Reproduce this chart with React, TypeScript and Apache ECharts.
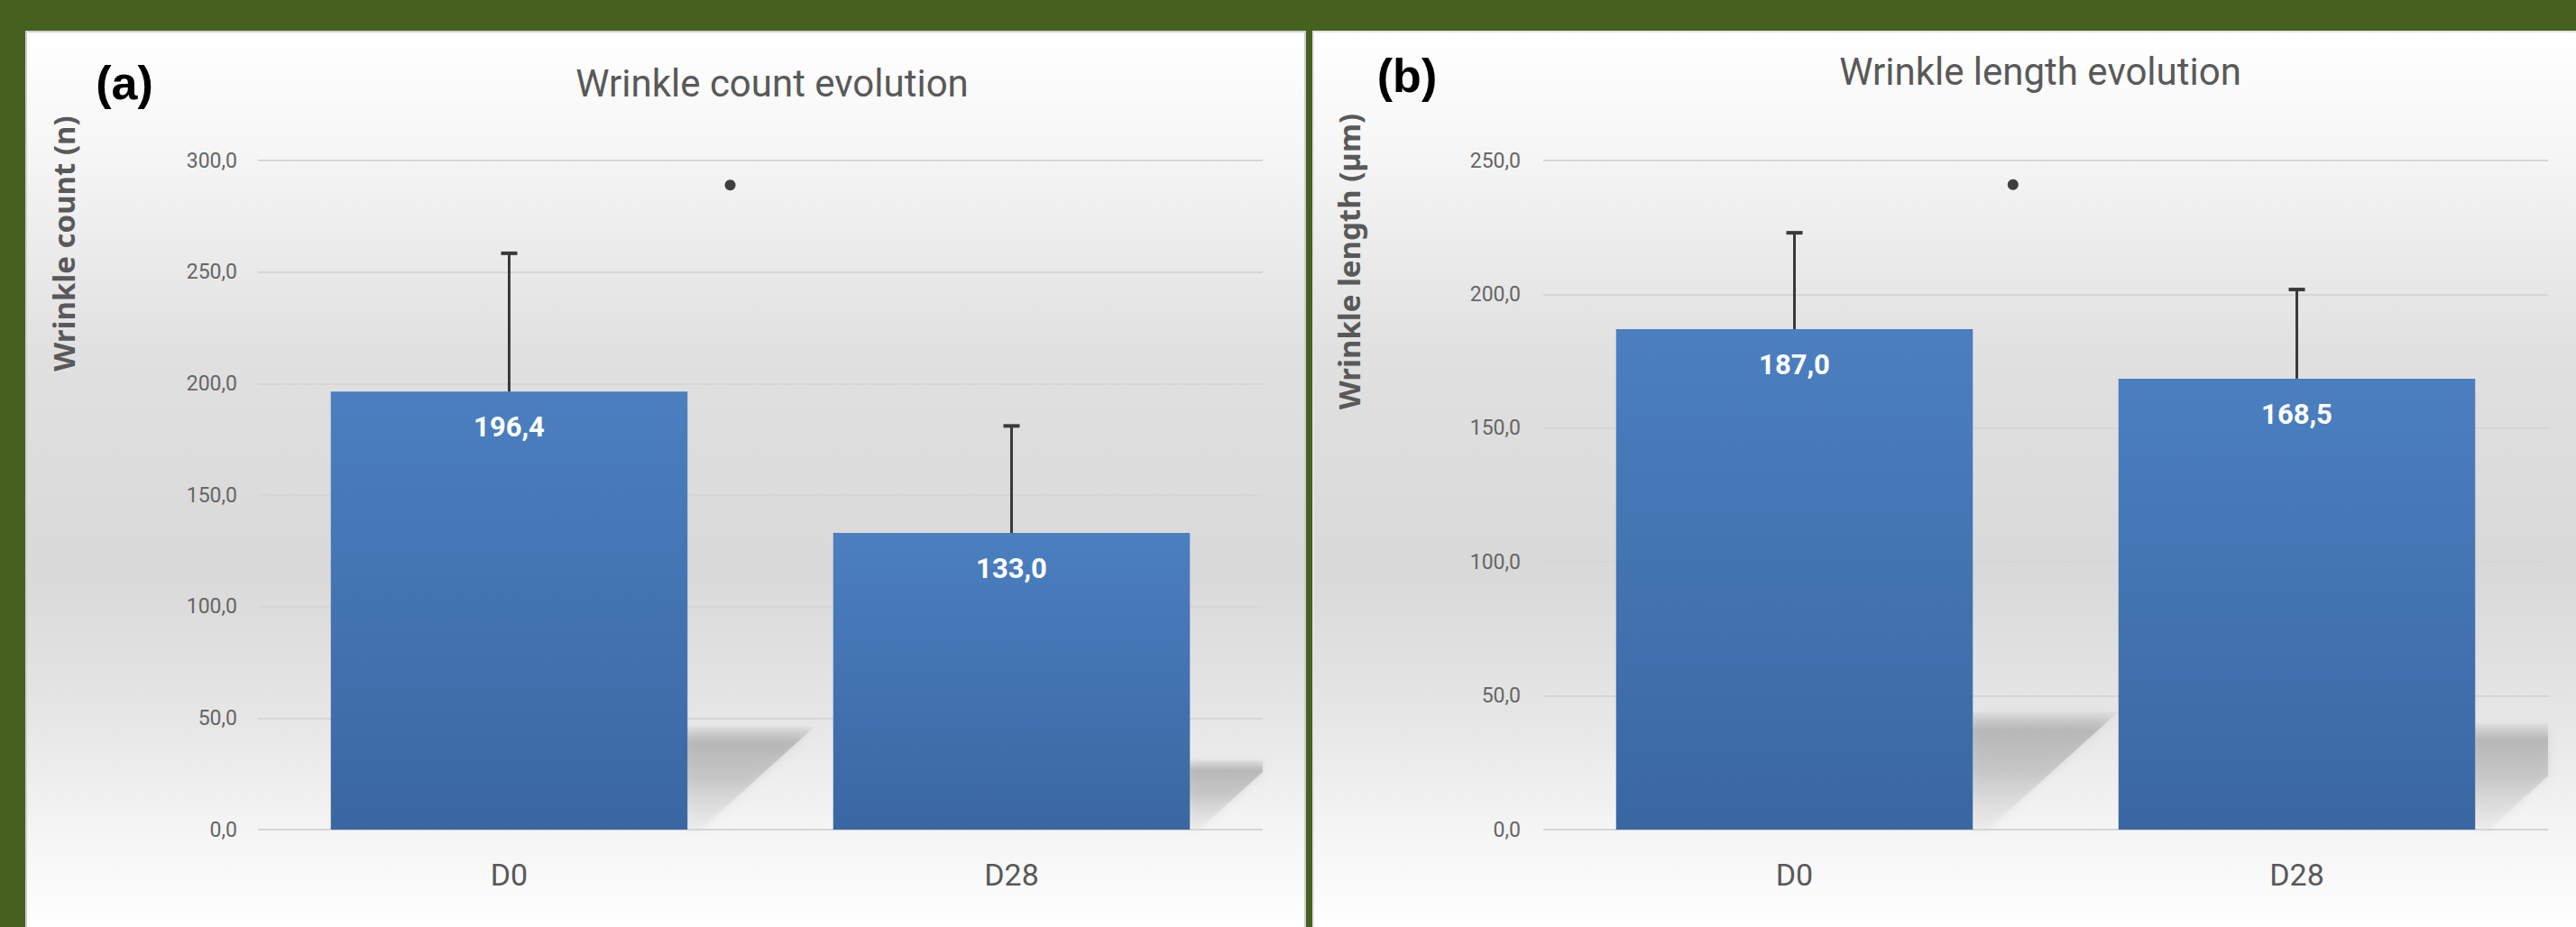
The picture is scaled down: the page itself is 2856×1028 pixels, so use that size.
import React, { useEffect, useRef } from "react";
import * as echarts from "echarts";

// ---------- data ----------
const categories = ["D0", "D28"];
const countMean = [196.4, 133.0];
const countErr = [62.0, 48.0];
const lengthMean = [187.0, 168.5];
const lengthErr = [36.0, 33.3];
const countSig = [[0.44, 289]];
const lengthSig = [[0.435, 241]];
const countTicks = { min: 0, max: 300, interval: 50 };
const lengthTicks = { min: 0, max: 250, interval: 50 };
const panelTitles = ["Wrinkle count evolution", "Wrinkle length evolution"];
const panelLetters = ["(a)", "(b)"];
const yTitles = ["Wrinkle count (n)", "Wrinkle length (\u00b5m)"];

const NARROW = "Roboto, 'Noto Sans', sans-serif";
const SANS = "'Noto Sans', 'Open Sans', sans-serif";
const BAR_FRAC = 0.71;
const GRAY_TXT = "#595959";

const fmt = (v: number) => v.toFixed(1).replace(".", ",");

function clipRight(pts: number[][], right: number) {
  const out: number[][] = [];
  for (let k = 0; k < pts.length; k++) {
    const a = pts[k];
    const b = pts[(k + 1) % pts.length];
    const ain = a[0] <= right;
    const bin = b[0] <= right;
    if (ain) out.push(a);
    if (ain !== bin) {
      const t = (right - a[0]) / (b[0] - a[0]);
      out.push([right, a[1] + t * (b[1] - a[1])]);
    }
  }
  return out;
}

const panelGradient = {
  type: "linear",
  x: 0,
  y: 0,
  x2: 0,
  y2: 1,
  colorStops: [
    { offset: 0, color: "#ffffff" },
    { offset: 0.12, color: "#f7f7f7" },
    { offset: 0.36, color: "#e0e0e0" },
    { offset: 0.6, color: "#d9d9d9" },
    { offset: 0.76, color: "#e6e6e6" },
    { offset: 0.89, color: "#f5f5f5" },
    { offset: 1, color: "#ffffff" },
  ],
};

function shadowSeries(gridIdx: number, means: number[]) {
  return {
    type: "custom",
    xAxisIndex: gridIdx * 2,
    yAxisIndex: gridIdx,
    z: 1,
    silent: true,
    data: means.map((m, i) => [i, m]),
    encode: { x: 0, y: 1 },
    renderItem: (params: any, api: any) => {
      const i = api.value(0);
      const v = api.value(1);
      const base = api.coord([i, 0]);
      const top = api.coord([i, v]);
      const band = api.size([1, 0])[0];
      const h = base[1] - top[1];
      const xr = base[0] + (band * BAR_FRAC) / 2;
      const ty = base[1] - 0.235 * h;
      const pts = [
        [xr, ty],
        [xr + 0.29 * h, ty],
        [xr + 0.03 * h, base[1]],
        [xr, base[1]],
      ];
      const right = params.coordSys.x + params.coordSys.width;
      return {
        type: "polygon",
        shape: { points: clipRight(pts, right) },
        style: {
          fill: {
            type: "linear",
            x: 0,
            y: 0,
            x2: 0,
            y2: 1,
            colorStops: [
              { offset: 0, color: "rgba(170,170,170,0.1)" },
              { offset: 0.16, color: "rgba(170,170,170,0.7)" },
              { offset: 0.5, color: "rgba(185,185,185,0.6)" },
              { offset: 1, color: "rgba(225,225,225,0.2)" },
            ],
          },
          shadowBlur: 10,
          shadowColor: "rgba(170,170,170,0.5)",
        },
      };
    },
  };
}

function errorSeries(gridIdx: number, means: number[], errs: number[]) {
  return {
    type: "custom",
    xAxisIndex: gridIdx * 2,
    yAxisIndex: gridIdx,
    z: 4,
    silent: true,
    data: means.map((m, i) => [i, m, errs[i]]),
    encode: { x: 0, y: 1 },
    renderItem: (_params: any, api: any) => {
      const i = api.value(0);
      const m = api.value(1);
      const e = api.value(2);
      const p0 = api.coord([i, m]);
      const p1 = api.coord([i, m + e]);
      return {
        type: "group",
        children: [
          {
            type: "line",
            shape: { x1: p0[0], y1: p0[1], x2: p1[0], y2: p1[1] },
            style: { stroke: "#3a3a3a", lineWidth: 3 },
          },
          {
            type: "line",
            shape: { x1: p1[0] - 9, y1: p1[1], x2: p1[0] + 9, y2: p1[1] },
            style: { stroke: "#3a3a3a", lineWidth: 4 },
          },
        ],
      };
    },
  };
}

function barSeries(gridIdx: number, means: number[]) {
  return {
    type: "bar",
    xAxisIndex: gridIdx * 2,
    yAxisIndex: gridIdx,
    z: 2,
    barWidth: BAR_FRAC * 100 + "%",
    data: means,
    itemStyle: {
      color: {
        type: "linear",
        x: 0,
        y: 0,
        x2: 0,
        y2: 1,
        colorStops: [
          { offset: 0, color: "#4b7fc0" },
          { offset: 1, color: "#3a67a2" },
        ],
      },
    },
    label: {
      show: true,
      position: "insideTop",
      distance: 24,
      color: "#ffffff",
      fontFamily: NARROW,
      fontWeight: "bold",
      fontSize: 31,
      formatter: (p: any) => fmt(p.value),
    },
  };
}

function sigSeries(gridIdx: number, pts: number[][]) {
  return {
    type: "scatter",
    xAxisIndex: gridIdx * 2 + 1,
    yAxisIndex: gridIdx,
    z: 4,
    symbol: "circle",
    symbolSize: 12,
    itemStyle: { color: "#111111" },
    data: pts,
  };
}

function catAxis(gridIdx: number) {
  return {
    type: "category",
    gridIndex: gridIdx,
    data: categories,
    axisLine: { show: false },
    axisTick: { show: false },
    axisLabel: {
      color: GRAY_TXT,
      fontFamily: NARROW,
      fontSize: 34,
      margin: 33,
    },
  };
}

function hiddenValAxis(gridIdx: number) {
  return { type: "value", gridIndex: gridIdx, min: -0.5, max: 1.5, show: false };
}

function valAxis(gridIdx: number, t: { min: number; max: number; interval: number }, margin: number) {
  return {
    type: "value",
    gridIndex: gridIdx,
    min: t.min,
    max: t.max,
    interval: t.interval,
    axisLine: { show: false },
    axisTick: { show: false },
    splitLine: { lineStyle: { color: "#d6d6d6", width: 2 } },
    axisLabel: {
      color: "#666666",
      fontFamily: NARROW,
      fontSize: 23,
      margin,
      formatter: (v: number) => fmt(v),
    },
  };
}

export default function App() {
  const ref = useRef<HTMLDivElement>(null);
  useEffect(() => {
    if (!ref.current) return;
    const chart = echarts.init(ref.current, undefined, { renderer: "svg" });
    chart.setOption({
      animation: false,
      backgroundColor: "#46601f",
      graphic: [
        {
          type: "rect",
          z: -10,
          shape: { x: 29, y: 35, width: 1418, height: 1000 },
          style: { fill: panelGradient, stroke: "#cfcfcf", lineWidth: 2 },
        },
        {
          type: "rect",
          z: -10,
          shape: { x: 1456, y: 35, width: 1410, height: 1000 },
          style: { fill: panelGradient, stroke: "#e3e3e3", lineWidth: 2 },
        },
        {
          type: "text",
          x: 138,
          y: 92,
          style: {
            text: panelLetters[0],
            font: "bold 52px 'Liberation Sans', Arial, sans-serif",
            fill: "#000000",
            align: "center",
            verticalAlign: "middle",
          },
        },
        {
          type: "text",
          x: 1560,
          y: 84,
          style: {
            text: panelLetters[1],
            font: "bold 52px 'Liberation Sans', Arial, sans-serif",
            fill: "#000000",
            align: "center",
            verticalAlign: "middle",
          },
        },
        {
          type: "text",
          x: 856,
          y: 92,
          style: {
            text: panelTitles[0],
            font: "42px " + NARROW,
            fill: GRAY_TXT,
            align: "center",
            verticalAlign: "middle",
          },
        },
        {
          type: "text",
          x: 2262,
          y: 79,
          style: {
            text: panelTitles[1],
            font: "42px " + NARROW,
            fill: GRAY_TXT,
            align: "center",
            verticalAlign: "middle",
          },
        },
        {
          type: "text",
          x: 70,
          y: 270,
          rotation: Math.PI / 2,
          style: {
            text: yTitles[0],
            font: "bold 33px " + SANS,
            fill: GRAY_TXT,
            align: "center",
            verticalAlign: "middle",
          },
        },
        {
          type: "text",
          x: 1495,
          y: 290,
          rotation: Math.PI / 2,
          style: {
            text: yTitles[1],
            font: "bold 33px " + SANS,
            fill: GRAY_TXT,
            align: "center",
            verticalAlign: "middle",
          },
        },
      ],
      grid: [
        { left: 286, top: 178, width: 1114, height: 742, containLabel: false },
        { left: 1711, top: 178, width: 1114, height: 742, containLabel: false },
      ],
      xAxis: [catAxis(0), hiddenValAxis(0), catAxis(1), hiddenValAxis(1)],
      yAxis: [valAxis(0, countTicks, 23), valAxis(1, lengthTicks, 25)],
      series: [
        shadowSeries(0, countMean),
        barSeries(0, countMean),
        errorSeries(0, countMean, countErr),
        sigSeries(0, countSig),
        shadowSeries(1, lengthMean),
        barSeries(1, lengthMean),
        errorSeries(1, lengthMean, lengthErr),
        sigSeries(1, lengthSig),
      ],
    });
    return () => chart.dispose();
  }, []);
  return (
    <div
      ref={ref}
      style={{ position: "fixed", left: 0, top: 0, width: 2856, height: 1028 }}
    />
  );
}
